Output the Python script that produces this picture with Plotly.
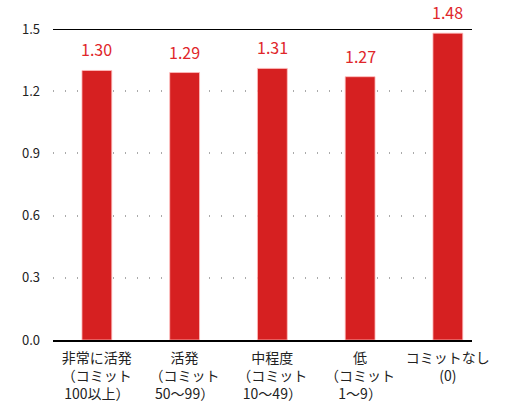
import plotly.graph_objects as go

categories = ['非常に活発<br>（コミット<br>100以上）', '活発<br>（コミット<br>50〜99）',
              '中程度<br>（コミット<br>10〜49）', '低<br>（コミット<br>1〜9）',
              'コミットなし<br>(0)']
values = [1.30, 1.29, 1.31, 1.27, 1.48]
labels = ['1.30', '1.29', '1.31', '1.27', '1.48']
y_ticks = [0.0, 0.3, 0.6, 0.9, 1.2, 1.5]

font = 'Noto Sans CJK JP'
xs = list(range(len(categories)))

fig = go.Figure(go.Bar(
    x=xs,
    y=values,
    width=0.34,
    marker=dict(color='#d62021', line=dict(color='rgba(255,190,190,0.8)', width=1)),
))

# value labels above the bars
for x, v, t in zip(xs, values, labels):
    fig.add_annotation(x=x, y=v, text=t, showarrow=False, yanchor='bottom', yshift=7,
                       font=dict(color='#e0262a', size=16, family=font))

# solid line on top of the plot at 1.5
fig.add_shape(type='line', xref='paper', yref='y', x0=0, x1=1, y0=1.5, y1=1.5,
              line=dict(color='black', width=2))

fig.update_layout(
    width=512, height=420,
    margin=dict(l=53, r=40, t=29, b=80),
    plot_bgcolor='white', paper_bgcolor='white',
    font=dict(family=font, size=13, color='#222'),
    showlegend=False,
    xaxis=dict(
        tickvals=xs,
        ticktext=categories,
        range=[-0.5, 4.275],
        showline=True, linecolor='black', linewidth=2,
        showgrid=False, ticks='', tickangle=0,
        tickfont=dict(size=14), ticklabelstandoff=4,
    ),
    yaxis=dict(
        range=[0, 1.5],
        tickvals=y_ticks,
        ticktext=['%.1f' % v for v in y_ticks],
        showgrid=True, gridcolor='#aaa', griddash='1px,11px', gridwidth=1.5,
        zeroline=False, ticks='', ticklabelstandoff=12,
        tickfont=dict(size=13),
    ),
)

fig.write_html('out.html', config={'displayModeBar': False},
               post_script="document.body.style.margin='0';")
